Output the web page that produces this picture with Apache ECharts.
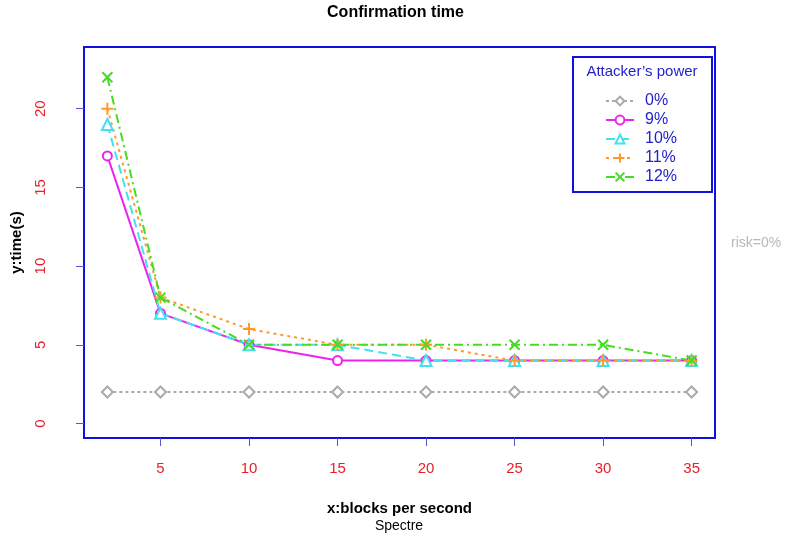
<!DOCTYPE html>
<html>
<head>
<meta charset="utf-8">
<script src="https://cdn.jsdelivr.net/npm/echarts@6/dist/echarts.min.js"></script>
<style>
  html, body { margin: 0; padding: 0; background: #fff; }
  #main { width: 791px; height: 542px; }
</style>
</head>
<body>
<div id="main"></div>
<script>
// blocks per second
var xVals = [2, 5, 10, 15, 20, 25, 30, 35];
// confirmation time per attacker's power
var p0 = [2, 2, 2, 2, 2, 2, 2, 2];
var p9 = [17, 7, 5, 4, 4, 4, 4, 4];
var p10 = [19, 7, 5, 5, 4, 4, 4, 4];
var p11 = [20, 8, 6, 5, 5, 4, 4, 4];
var p12 = [22, 8, 5, 5, 5, 5, 5, 4];
var legendNames = ['0%', '9%', '10%', '11%', '12%'];
var xTicks = [5, 10, 15, 20, 25, 30, 35];
var yTicks = [0, 5, 10, 15, 20];

var font = 'Liberation Sans, Arial, sans-serif';
var plusPath = 'path://M5,0L5,10M0,5L10,5';
var crossPath = 'path://M0,0L10,10M10,0L0,10';

function pairs(ys) {
  return xVals.map(function (x, i) { return [x, ys[i]]; });
}

function mkSeries(name, ys, color, dash, symbol, size) {
  return {
    name: name,
    type: 'line',
    data: pairs(ys),
    symbol: symbol,
    symbolSize: size,
    showAllSymbol: true,
    lineStyle: { color: color, width: 2, type: dash },
    itemStyle: { color: (symbol.indexOf('path') === 0) ? 'transparent' : color, borderColor: color, borderWidth: 2 },
    emphasis: { disabled: true },
    animation: false
  };
}

var chart = echarts.init(document.getElementById('main'));
var option = {
  backgroundColor: '#fff',
  title: {
    text: 'Confirmation time',
    left: 'center',
    top: 0,
    textStyle: { fontFamily: font, fontSize: 16, fontWeight: 'bold', color: '#000' }
  },
  grid: {
    left: 84, right: 76, top: 47, bottom: 104,
    show: true, borderColor: '#1010e0', borderWidth: 2, backgroundColor: 'transparent'
  },
  xAxis: {
    type: 'value',
    min: 0.68, max: 36.32,
    axisLine: { show: false, onZero: false },
    splitLine: { show: false },
    axisTick: { show: true, customValues: xTicks, length: 8, lineStyle: { color: '#5555dd' } },
    axisLabel: { customValues: xTicks, color: '#e8202a', fontFamily: font, fontSize: 15, margin: 23 },
    name: 'x:blocks per second',
    nameLocation: 'middle',
    nameGap: 63,
    nameTextStyle: { fontFamily: font, fontSize: 15, fontWeight: 'bold', color: '#000' }
  },
  yAxis: {
    type: 'value',
    min: -0.92, max: 23.92,
    axisLine: { show: false, onZero: false },
    splitLine: { show: false },
    axisTick: { show: true, customValues: yTicks, length: 8, lineStyle: { color: '#5555dd' } },
    axisLabel: { customValues: yTicks, color: '#e8202a', fontFamily: font, fontSize: 15, rotate: 90, margin: 36 },
    name: 'y:time(s)',
    nameLocation: 'middle',
    nameGap: 60,
    nameRotate: 90,
    nameTextStyle: { fontFamily: font, fontSize: 15, fontWeight: 'bold', color: '#000' }
  },
  legend: {
    data: legendNames,
    orient: 'vertical',
    left: 600,
    top: 88,
    itemWidth: 28,
    itemHeight: 11,
    itemGap: 3,
    textStyle: { fontFamily: font, fontSize: 16, color: '#2222cc', padding: [0, 0, 0, 6] },
    selectedMode: false
  },
  graphic: [
    {
      type: 'rect',
      shape: { x: 573, y: 57, width: 139, height: 135 },
      style: { fill: 'transparent', stroke: '#1010e0', lineWidth: 2 },
      z: 100
    },
    {
      type: 'text',
      x: 642, y: 72,
      style: { text: 'Attacker\u2019s power', fontFamily: font, fontSize: 15, fill: '#2222cc', align: 'center', verticalAlign: 'middle' },
      z: 100
    },
    {
      type: 'text',
      x: 731, y: 243,
      style: { text: 'risk=0%', fontFamily: font, fontSize: 14, fill: '#b8b8b8', verticalAlign: 'middle' }
    },
    {
      type: 'text',
      x: 399, y: 526,
      style: { text: 'Spectre', fontFamily: font, fontSize: 14, fill: '#000', align: 'center', verticalAlign: 'middle' }
    }
  ],
  series: [
    mkSeries('0%', p0, '#aaaaaa', [3, 3], 'emptyDiamond', 11),
    mkSeries('9%', p9, '#ee22ee', 'solid', 'emptyCircle', 9),
    mkSeries('10%', p10, '#44e0f0', [9, 5], 'emptyTriangle', 11),
    mkSeries('11%', p11, '#ff9a2a', [3, 4], plusPath, 12),
    mkSeries('12%', p12, '#44dd22', [9, 4, 2, 4], crossPath, 10)
  ]
};
chart.setOption(option);
</script>
</body>
</html>
